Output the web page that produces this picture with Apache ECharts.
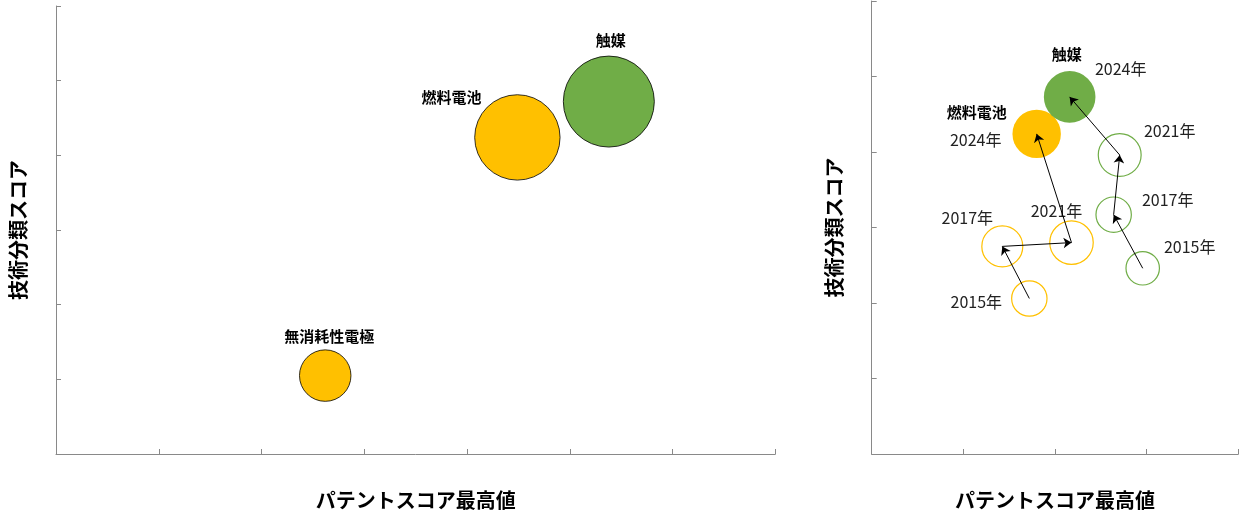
<!DOCTYPE html>
<html>
<head>
<meta charset="utf-8">
<script src="https://cdn.jsdelivr.net/npm/echarts@6/dist/echarts.min.js"></script>
<style>
  html, body { margin: 0; padding: 0; background: #fff; }
  #chart { width: 1250px; height: 532px; }
</style>
</head>
<body>
<div id="chart"></div>
<script>
// 左: 技術分野ごとのバブル
const leftNames = ['無消耗性電極', '燃料電池', '触媒'];
const leftX = [2.62, 4.49, 5.38];
const leftY = [1.05, 4.24, 4.72];
const leftSize = [32, 88, 100];
const leftColors = ['#FFC000', '#FFC000', '#70AD47'];

// 右: 年ごとの推移
const years = ['2015年', '2017年', '2021年', '2024年'];
const fuelX = [1.72, 1.425, 2.18, 1.80];
const fuelY = [2.06, 2.75, 2.80, 4.24];
const fuelSize = [47, 63, 71, 88];
const catX = [2.957, 2.64, 2.706, 2.16];
const catY = [2.46, 3.17, 3.96, 4.73];
const catSize = [42, 47, 69, 100];

const font = '"Noto Sans CJK JP", "Noto Sans", sans-serif';
const orange = '#FFC000';
const green = '#70AD47';

// ラベル位置 (バブル中心からのずれ, px)
const leftLabelOffset = [[4, -39], [-66, -40], [2, -61]];
const fuelLabelOffset = [[-53, 3], [-35, -28], [-15, -32], [-61, 6]];
const catLabelOffset = [[47, -21], [54, -15], [50, -24], [51, -28]];

const axisLine = {
  show: true,
  lineStyle: { color: '#898989', width: 1 }
};
const axisTick = {
  show: true,
  inside: true,
  length: 5,
  lineStyle: { color: '#898989', width: 1 }
};
const axisName = {
  fontFamily: font,
  fontSize: 20,
  fontWeight: 'bold',
  color: '#000'
};

function makeAxis(idx, max, name, gap) {
  return {
    type: 'value',
    gridIndex: idx,
    min: 0,
    max: max,
    interval: 1,
    name: name,
    nameLocation: 'middle',
    nameGap: gap,
    nameTextStyle: axisName,
    axisLine: axisLine,
    axisTick: axisTick,
    axisLabel: { show: false },
    splitLine: { show: false }
  };
}

const leftData = leftNames.map((n, i) => ({
  name: n,
  value: [leftX[i], leftY[i], leftSize[i]],
  itemStyle: { color: leftColors[i] },
  label: { offset: leftLabelOffset[i] }
}));

function trendData(xs, ys, sizes, offsets, color) {
  return xs.map((x, i) => {
    const last = i === xs.length - 1;
    return {
      name: years[i],
      value: [x, ys[i], sizes[i]],
      itemStyle: last
        ? { color: color, borderWidth: 0 }
        : { color: 'rgba(255,255,255,0)', borderColor: color, borderWidth: 1.2 },
      label: { offset: offsets[i] }
    };
  });
}

function arrows(xs, ys) {
  const out = [];
  for (let i = 0; i < xs.length - 1; i++) {
    out.push({ coords: [[xs[i], ys[i]], [xs[i + 1], ys[i + 1]]] });
  }
  return out;
}

const yearLabel = {
  show: true,
  position: 'inside',
  formatter: '{b}',
  fontFamily: font,
  fontSize: 16,
  color: '#222',
  textBorderWidth: 0
};
const nameLabel = {
  show: true,
  position: 'inside',
  formatter: '{b}',
  fontFamily: font,
  fontSize: 15,
  fontWeight: 'bold',
  color: '#000',
  textBorderWidth: 0
};

const chart = echarts.init(document.getElementById('chart'));
const option = {
  animation: false,
  grid: [
    { left: 55.3, top: 6, width: 720, height: 448 },
    { left: 871.7, top: 1, width: 366.6, height: 453 }
  ],
  xAxis: [
    makeAxis(0, 7, 'パテントスコア最高値', 36),
    makeAxis(1, 4, 'パテントスコア最高値', 36)
  ],
  yAxis: [
    makeAxis(0, 6, '技術分類スコア', 28),
    makeAxis(1, 6, '技術分類スコア', 27)
  ],
  series: [
    {
      type: 'scatter',
      xAxisIndex: 0,
      yAxisIndex: 0,
      symbolSize: v => 91 * Math.sqrt(v[2] / 100),
      itemStyle: { borderColor: '#000', borderWidth: 0.8, opacity: 1 },
      label: nameLabel,
      data: leftData
    },
    {
      type: 'scatter',
      xAxisIndex: 1,
      yAxisIndex: 1,
      symbolSize: v => 51.6 * Math.sqrt(v[2] / 100),
      label: yearLabel,
      itemStyle: { opacity: 1 },
      data: trendData(fuelX, fuelY, fuelSize, fuelLabelOffset, orange)
    },
    {
      type: 'scatter',
      xAxisIndex: 1,
      yAxisIndex: 1,
      symbolSize: v => 51.6 * Math.sqrt(v[2] / 100),
      label: yearLabel,
      itemStyle: { opacity: 1 },
      data: trendData(catX, catY, catSize, catLabelOffset, green)
    },
    {
      // 技術名ラベル (右)
      type: 'scatter',
      xAxisIndex: 1,
      yAxisIndex: 1,
      symbolSize: 1,
      silent: true,
      itemStyle: { color: '#fff', opacity: 1 },
      label: nameLabel,
      data: [
        { name: '燃料電池', value: [fuelX[3], fuelY[3]], label: { offset: [-60, -22] } },
        { name: '触媒', value: [catX[3], catY[3]], label: { offset: [-3, -43] } }
      ],
      z: 1
    },
    {
      type: 'lines',
      coordinateSystem: 'cartesian2d',
      xAxisIndex: 1,
      yAxisIndex: 1,
      symbol: ['none', 'arrow'],
      symbolSize: 8,
      lineStyle: { color: '#000', width: 1, opacity: 1 },
      data: arrows(fuelX, fuelY).concat(arrows(catX, catY)),
      z: 5
    }
  ]
};
chart.setOption(option);
</script>
</body>
</html>
